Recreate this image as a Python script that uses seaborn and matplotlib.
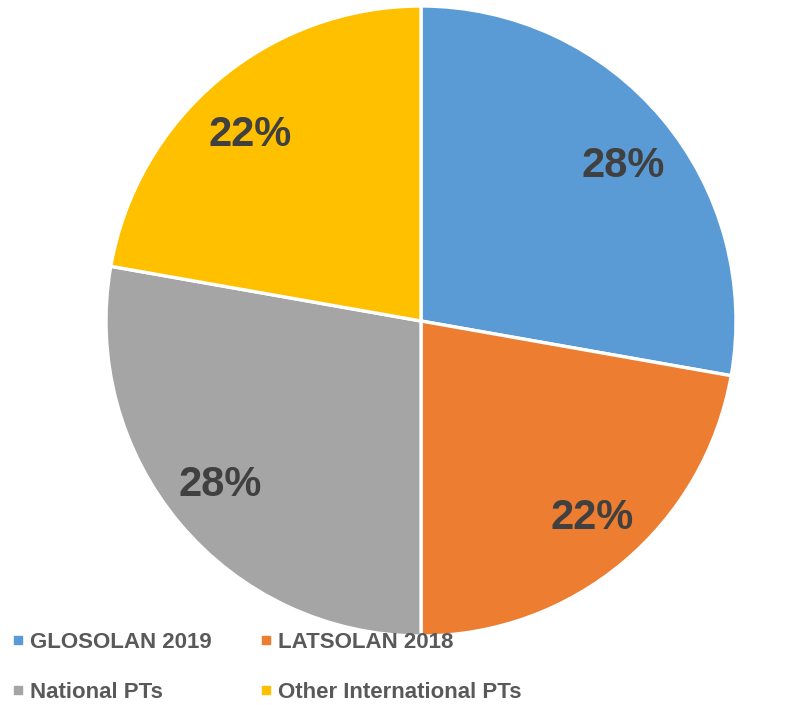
import matplotlib
matplotlib.use("Agg")
import matplotlib.pyplot as plt
from matplotlib.lines import Line2D
import seaborn as sns

# Data
categories = ["GLOSOLAN 2019", "LATSOLAN 2018", "National PTs", "Other International PTs"]
counts = [5, 4, 5, 4]
colors = ["#5B9BD5", "#ED7D31", "#A5A5A5", "#FFC000"]

sns.set_theme(style="white")
plt.rcParams["font.family"] = ["Liberation Sans", "DejaVu Sans"]

fig = plt.figure(figsize=(8.05, 7.05), dpi=100)
ax = fig.add_axes([106 / 805, 69 / 705, 630 / 805, 630 / 705])

wedges, texts, autotexts = ax.pie(
    counts, colors=sns.color_palette(colors), startangle=90, counterclock=False,
    autopct=lambda p: f"{p:.0f}%", pctdistance=0.81, radius=1,
    wedgeprops=dict(edgecolor="white", linewidth=2.4),
    textprops=dict(color="#404040", fontsize=30, fontweight="bold"),
)
# small nudges so the labels sit where the original's label placement put them
nudges = [(7, -9), (7, -2), (-5, 0), (-7, -9)]  # pixels (right, up)
for t, (dx, dy) in zip(autotexts, nudges):
    x, y = t.get_position()
    t.set_position((x + dx / 315, y + dy / 315))

ax.set_xlim(-1, 1)
ax.set_ylim(-1, 1)
ax.set_aspect("equal")
ax.axis("off")

# Legend (row-wise order: matplotlib fills columns first)
order = [0, 2, 1, 3]
handles = [Line2D([], [], linestyle="none", marker="s", markersize=5.5,
                  markerfacecolor=colors[i], markeredgecolor=colors[i]) for i in order]
labels = [categories[i] for i in order]
leg = fig.legend(handles, labels, ncol=2, loc="upper left",
                 bbox_to_anchor=(-8 / 805, 1 - 612 / 705), frameon=False,
                 handlelength=0.5, handletextpad=0.3, columnspacing=2.2,
                 labelspacing=1.3,
                 prop=dict(family="Liberation Sans", weight="bold", size=16))
for t in leg.get_texts():
    t.set_color("#595959")

fig.savefig("out.png", dpi=100)
